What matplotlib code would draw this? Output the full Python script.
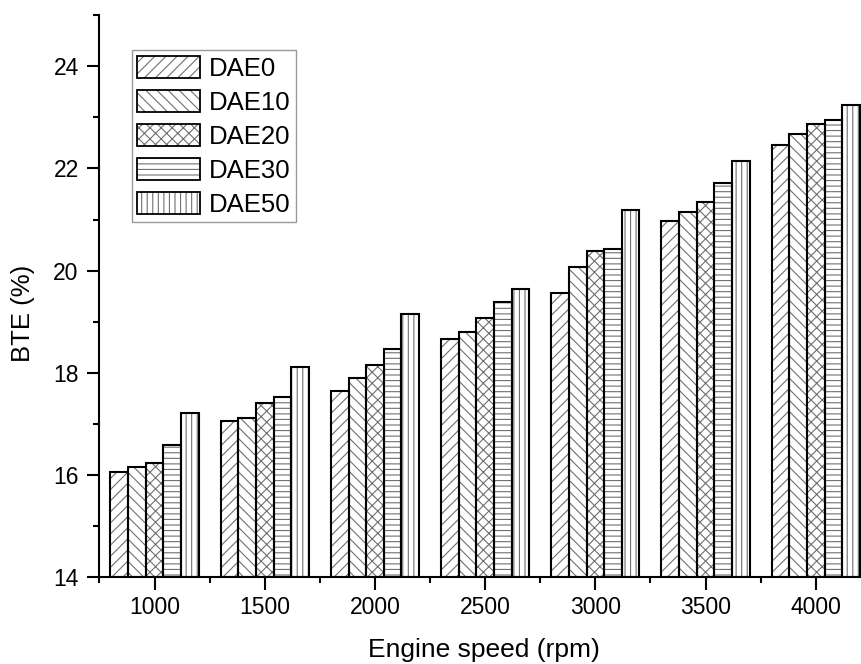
import matplotlib
matplotlib.use("Agg")
import matplotlib.pyplot as plt
from matplotlib.patches import Patch
from matplotlib.ticker import MultipleLocator
import numpy as np

plt.rcParams['font.family'] = ['Liberation Sans', 'DejaVu Sans']
plt.rcParams['hatch.linewidth'] = 0.8

speeds = [1000, 1500, 2000, 2500, 3000, 3500, 4000]
series = ['DAE0', 'DAE10', 'DAE20', 'DAE30', 'DAE50']
dae0 = [16.06, 17.05, 17.65, 18.67, 19.56, 20.97, 22.46]
dae10 = [16.16, 17.12, 17.90, 18.80, 20.08, 21.15, 22.67]
dae20 = [16.24, 17.41, 18.15, 19.07, 20.38, 21.35, 22.87]
dae30 = [16.58, 17.53, 18.46, 19.39, 20.42, 21.71, 22.94]
dae50 = [17.22, 18.11, 19.16, 19.64, 21.19, 22.14, 23.25]
values = [dae0, dae10, dae20, dae30, dae50]
hatches = ['///', '\\\\\\', 'xxx', '---', '|||']

fig = plt.figure(figsize=(8.62, 6.64), dpi=100)
ax = fig.add_axes([0.1154, 0.131, 0.8846, 0.846])

width = 80
x = np.array(speeds, dtype=float)
handles = []
for i, (name, vals, h) in enumerate(zip(series, values, hatches)):
    pos = x + (i - 2) * width
    heights = np.array(vals) - 14
    ax.bar(pos, heights, width=width, bottom=14, color='white',
           edgecolor='#707070', hatch=h, linewidth=0, zorder=2)
    ax.bar(pos, heights, width=width, bottom=14, fill=False,
           edgecolor='black', linewidth=1.5, zorder=3)
    hp = Patch(facecolor='white', edgecolor='#707070', hatch=h, linewidth=0)
    op = Patch(fill=False, edgecolor='black', linewidth=1.3)
    handles.append((hp, op))

ax.set_xlim(750, 4210)
ax.set_ylim(14, 25)
ax.xaxis.set_major_locator(MultipleLocator(500))
ax.xaxis.set_minor_locator(MultipleLocator(250))
ax.yaxis.set_major_locator(MultipleLocator(2))
ax.yaxis.set_minor_locator(MultipleLocator(1))
ax.set_xticks(speeds)
ax.set_xticklabels([str(s) for s in speeds])
ax.spines['top'].set_visible(False)
ax.spines['right'].set_visible(False)
ax.spines['left'].set_linewidth(1.5)
ax.spines['bottom'].set_linewidth(1.5)
ax.tick_params(axis='both', which='major', direction='out', length=9, width=1.5,
               labelsize=16.5)
ax.tick_params(axis='x', which='major', pad=5)
ax.tick_params(axis='y', which='major', pad=6)
ax.tick_params(axis='both', which='minor', direction='out', length=4.5, width=1.5)

ax.set_xlabel('Engine speed (rpm)', fontsize=19)
ax.xaxis.set_label_coords(0.5036, -0.108)
ax.set_ylabel('BTE (%)', fontsize=18.5)
ax.yaxis.set_label_coords(-0.0846, 0.47)

leg = ax.legend(handles, series, loc='upper left', bbox_to_anchor=(0.042, 0.938),
                borderaxespad=0, fontsize=18.5, frameon=True, fancybox=False,
                handlelength=2.45, handleheight=0.93, handletextpad=0.34,
                labelspacing=0.36, borderpad=0.22)
leg.get_frame().set_edgecolor('#808080')
leg.get_frame().set_linewidth(1.0)

fig.savefig('out.png', dpi=100)
